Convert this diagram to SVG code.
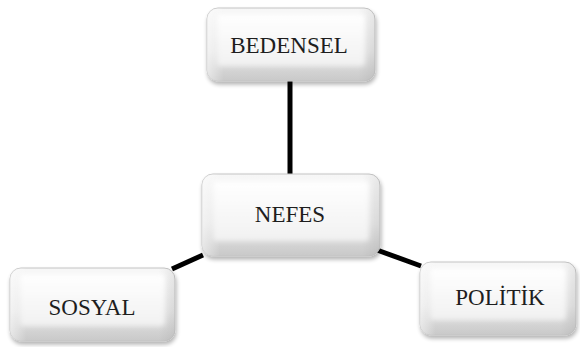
<svg xmlns="http://www.w3.org/2000/svg" width="580" height="347" viewBox="0 0 580 347">
<defs>
<linearGradient id="outer" x1="0" y1="0" x2="0" y2="1">
<stop offset="0" stop-color="#f7f7f7"/>
<stop offset="0.6" stop-color="#e6e6e6"/>
<stop offset="1" stop-color="#c9c9c9"/>
</linearGradient>
<linearGradient id="side" x1="0" y1="0" x2="1" y2="0">
<stop offset="0" stop-color="#ffffff" stop-opacity="0.5"/>
<stop offset="0.1" stop-color="#ffffff" stop-opacity="0"/>
<stop offset="0.9" stop-color="#000000" stop-opacity="0"/>
<stop offset="1" stop-color="#000000" stop-opacity="0.06"/>
</linearGradient>
<linearGradient id="inner" x1="0" y1="0" x2="0" y2="1">
<stop offset="0" stop-color="#ffffff"/>
<stop offset="1" stop-color="#f1f1f1"/>
</linearGradient>
<filter id="sh" x="-10%" y="-10%" width="120%" height="130%">
<feGaussianBlur in="SourceAlpha" stdDeviation="2"/>
<feOffset dx="1" dy="3" result="b"/>
<feComponentTransfer><feFuncA type="linear" slope="0.3"/></feComponentTransfer>
<feMerge><feMergeNode/><feMergeNode in="SourceGraphic"/></feMerge>
</filter>
<filter id="blur" x="-10%" y="-10%" width="120%" height="120%">
<feGaussianBlur stdDeviation="2.5"/>
</filter>
</defs>
<style>
.o{fill:url(#outer);stroke:#c4c4c4;stroke-width:1;filter:url(#sh)}
.s{fill:url(#side)}
.i{fill:url(#inner);filter:url(#blur)}
.t{font-family:"Liberation Serif","Times New Roman",serif;font-size:23px;fill:#1e1e1e;text-anchor:middle;dominant-baseline:central}
.c{stroke:#000;stroke-width:5;fill:none}
</style>
<rect width="580" height="347" fill="#fff"/>
<g id="connectors">
<line class="c" x1="290" y1="80" x2="290" y2="175"/>
<line class="c" x1="203" y1="255" x2="172" y2="269"/>
<line class="c" x1="377" y1="250" x2="421" y2="266"/>
</g>
<g id="bedensel">
<rect class="o" x="207" y="8" width="168" height="73" rx="11"/>
<rect class="s" x="207" y="8" width="168" height="73" rx="11"/>
<rect class="i" x="217" y="14" width="148" height="52" rx="4"/>
<text class="t" x="289" y="45">BEDENSEL</text>
</g>
<g id="nefes">
<rect class="o" x="202" y="174" width="178" height="82" rx="11"/>
<rect class="s" x="202" y="174" width="178" height="82" rx="11"/>
<rect class="i" x="213" y="181" width="156" height="60" rx="4"/>
<text class="t" x="290" y="214">NEFES</text>
</g>
<g id="sosyal">
<rect class="o" x="10" y="268" width="165" height="73" rx="11"/>
<rect class="s" x="10" y="268" width="165" height="73" rx="11"/>
<rect class="i" x="20" y="274" width="145" height="52" rx="4"/>
<text class="t" x="92" y="307">SOSYAL</text>
</g>
<g id="politik">
<rect class="o" x="420" y="262" width="156" height="73" rx="11"/>
<rect class="s" x="420" y="262" width="156" height="73" rx="11"/>
<rect class="i" x="430" y="268" width="136" height="52" rx="4"/>
<text class="t" x="500" y="297">POLİTİK</text>
</g>
</svg>
